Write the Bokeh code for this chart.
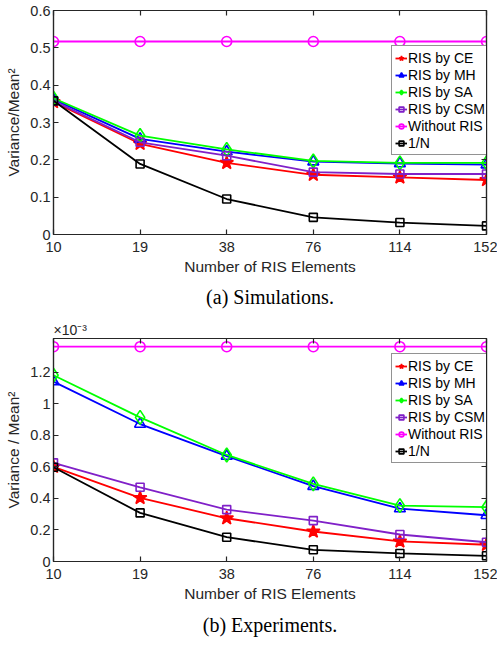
from bokeh.plotting import figure
from bokeh.models import (Range1d, LinearAxis, FixedTicker, Legend, LegendItem,
                          Title, CustomJSTickFormatter)
from bokeh.layouts import column
from bokeh.embed import file_html
from bokeh.resources import INLINE

# ---------------- data ----------------
n_elements = ["10", "19", "38", "76", "114", "152"]
series_names = ["RIS by CE", "RIS by MH", "RIS by SA", "RIS by CSM", "Without RIS", "1/N"]

# (a) Simulations: Variance / Mean^2
sim_ce = [0.355, 0.243, 0.192, 0.160, 0.153, 0.146]
sim_mh = [0.362, 0.256, 0.222, 0.195, 0.190, 0.187]
sim_sa = [0.365, 0.265, 0.228, 0.197, 0.192, 0.192]
sim_csm = [0.358, 0.247, 0.211, 0.167, 0.162, 0.162]
sim_without = [0.517, 0.517, 0.517, 0.517, 0.517, 0.517]
sim_inv_n = [0.358, 0.189, 0.095, 0.046, 0.032, 0.023]
sim_y_ticks = [0, 0.1, 0.2, 0.3, 0.4, 0.5, 0.6]
sim_y_labels = ["0", "0.1", "0.2", "0.3", "0.4", "0.5", "0.6"]

# (b) Experiments: Variance / Mean^2, in units of 1e-3
exp_ce = [0.600, 0.403, 0.274, 0.190, 0.127, 0.106]
exp_mh = [1.140, 0.871, 0.668, 0.477, 0.335, 0.293]
exp_sa = [1.180, 0.913, 0.675, 0.492, 0.354, 0.344]
exp_csm = [0.625, 0.470, 0.329, 0.259, 0.171, 0.122]
exp_without = [1.361, 1.361, 1.361, 1.361, 1.361, 1.361]
exp_inv_n = [0.597, 0.308, 0.154, 0.074, 0.051, 0.036]
exp_y_ticks = [0, 0.2, 0.4, 0.6, 0.8, 1, 1.2]
exp_y_labels = ["0", "0.2", "0.4", "0.6", "0.8", "1", "1.2"]

# ---------------- style ----------------
AX = "#262626"
FONT = "Liberation Sans"
styles = [
    dict(color="#FF0000", marker="star", size=14, fill=True),
    dict(color="#0000FF", marker="triangle", size=11, fill=False),
    dict(color="#00FF00", marker="diamond", size=14, fill=False),
    dict(color="#8020C8", marker="square", size=8, fill=False),
    dict(color="#FF00FF", marker="circle", size=10, fill=False),
    dict(color="#000000", marker="square", size=8, fill=False),
]

xs = list(range(len(n_elements)))


def make_panel(series, y_max, y_ticks, y_labels, y_label, caption, frame_h,
               border_top, border_bottom, legend_y, cap_standoff, exponent=None):
    p = figure(frame_width=433, frame_height=frame_h, output_backend="svg",
               toolbar_location=None,
               x_range=Range1d(0, len(n_elements) - 1), y_range=Range1d(0, y_max),
               min_border_left=53, min_border_right=11, min_border_top=border_top,
               min_border_bottom=border_bottom, x_axis_type=None, y_axis_type=None)
    p.xgrid.visible = False
    p.ygrid.visible = False
    p.outline_line_color = AX
    p.outline_line_width = 1.2
    p.background_fill_color = "white"
    p.border_fill_color = "white"

    def style_axis(ax, show_labels):
        ax.axis_line_color = AX
        ax.axis_line_width = 1.2
        ax.major_tick_line_color = AX
        ax.major_tick_line_width = 1.2
        ax.major_tick_in = 5
        ax.major_tick_out = 0
        ax.minor_tick_line_color = None
        ax.major_label_text_font = FONT
        ax.major_label_text_color = AX
        ax.major_label_text_font_size = "14.5px"
        ax.axis_label_text_font = FONT
        ax.axis_label_text_font_style = "normal"
        ax.axis_label_text_color = AX
        ax.axis_label_text_font_size = "15.5px"
        if not show_labels:
            ax.formatter = CustomJSTickFormatter(code="return ''")
            ax.major_label_standoff = 0
            ax.major_label_text_font_size = "1px"

    xb = LinearAxis(ticker=FixedTicker(ticks=xs),
                    major_label_overrides={i: n_elements[i] for i in xs},
                    axis_label="Number of RIS Elements")
    style_axis(xb, True)
    xb.major_label_standoff = 7
    xb.axis_label_standoff = 3
    p.add_layout(xb, "below")

    yl = LinearAxis(ticker=FixedTicker(ticks=y_ticks),
                    major_label_overrides={t: l for t, l in zip(y_ticks, y_labels)},
                    axis_label=y_label)
    style_axis(yl, True)
    yl.major_label_standoff = 3
    yl.axis_label_standoff = 5
    p.add_layout(yl, "left")

    xt = LinearAxis(ticker=FixedTicker(ticks=xs))
    style_axis(xt, False)
    p.add_layout(xt, "above")
    yr = LinearAxis(ticker=FixedTicker(ticks=y_ticks))
    style_axis(yr, False)
    p.add_layout(yr, "right")

    items = []
    for name, ys, st in zip(series_names, series, styles):
        ln = p.line(xs, ys, line_color=st["color"], line_width=1.8)
        sc = p.scatter(xs, ys, marker=st["marker"], size=st["size"],
                       line_color=st["color"], line_width=1.6,
                       fill_color=st["color"] if st["fill"] else None)
        items.append(LegendItem(label=name, renderers=[ln, sc]))

    legend = Legend(items=items, location=(338, legend_y),
                    glyph_width=12, glyph_height=14, label_height=17,
                    label_standoff=1, spacing=0, padding=3, margin=0,
                    label_text_font=FONT, label_text_font_size="14px",
                    label_text_color="#000000",
                    border_line_color=AX, border_line_width=1.2,
                    background_fill_color="white", background_fill_alpha=1.0)
    p.add_layout(legend, "center")

    if exponent is not None:
        p.add_layout(Title(text=exponent, align="left", text_font=FONT,
                           text_font_size="14px", text_font_style="normal",
                           text_color=AX, standoff=1), "above")

    p.add_layout(Title(text=caption, align="center", text_font="Liberation Serif",
                       text_font_size="20px", text_font_style="normal",
                       text_color="#000000", standoff=cap_standoff), "below")
    return p


p1 = make_panel([sim_ce, sim_mh, sim_sa, sim_csm, sim_without, sim_inv_n],
                0.6, sim_y_ticks, sim_y_labels, "Variance/Mean²",
                "(a) Simulations.", 224, 10, 80, 79, 13)
p2 = make_panel([exp_ce, exp_mh, exp_sa, exp_csm, exp_without, exp_inv_n],
                1.413, exp_y_ticks, exp_y_labels, "Variance / Mean²",
                "(b) Experiments.", 223, 24, 84, 98, 14, exponent="×10⁻³")

layout = column(p1, p2, spacing=0)
open("out.html", "w").write(file_html(layout, INLINE))
